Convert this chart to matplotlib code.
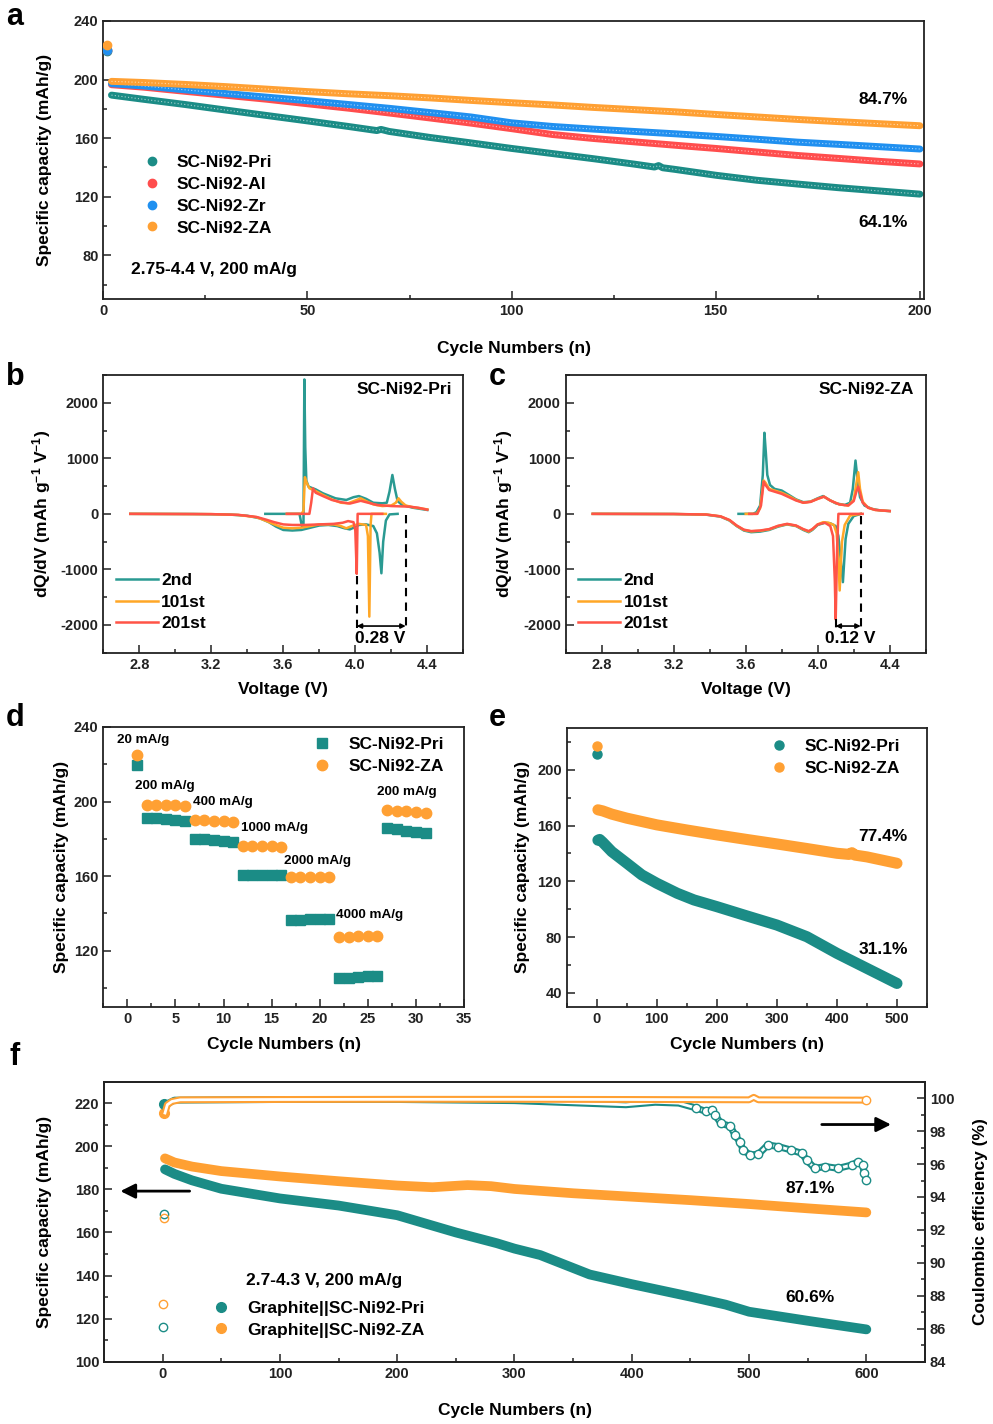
import matplotlib
matplotlib.use('Agg')
import matplotlib.pyplot as plt
from matplotlib.ticker import MultipleLocator

plt.rcParams['font.family'] = ['Liberation Sans', 'DejaVu Sans']
plt.rcParams['font.weight'] = 'bold'
plt.rcParams['axes.labelweight'] = 'bold'
plt.rcParams['axes.unicode_minus'] = False
plt.rcParams['mathtext.fontset'] = 'custom'
plt.rcParams['mathtext.rm'] = 'Liberation Sans:bold'
plt.rcParams['mathtext.default'] = 'rm'

TEAL = '#1b8c86'
RED = '#ff4d4d'
BLUE = '#2090f0'
ORANGE = '#ffa033'
C_2ND = '#2a9a92'
C_101 = '#ffa726'
C_201 = '#ff5447'

# ---- a: cycling 200 cycles, half cell
a_cyc = [2, 10, 20, 30, 40, 50, 60, 70, 80, 90, 100, 110, 120, 130, 140, 150, 160, 170, 180, 190, 200]
a_pri_cyc = [2, 10, 20, 30, 40, 50, 60, 67, 68, 70, 80, 90, 100, 110, 120, 130, 135, 136, 137, 140,
             150, 160, 170, 180, 190, 200]
a_pri = [189.4, 186.5, 183, 179.2, 175.5, 171.8, 168, 165.2, 166.0, 164.6, 160.5, 156.8, 153, 149.5, 146,
         142.3, 140.3, 141.3, 139.8, 138.7, 134.7, 131.3, 128.7, 126.2, 124, 121.8]
a_al = [196.5, 194.8, 192, 189.3, 186.6, 183.5, 180.5, 177.2, 173.8, 170.3, 166.5, 162.5, 159.8, 157.5,
        155.2, 153, 150.6, 148.2, 146.2, 144.2, 142.4]
a_zr = [197.2, 195.6, 193, 190.5, 188, 185.6, 183, 180.4, 177.5, 174.5, 170.5, 168, 166.2, 164.6, 163,
        161.2, 159.3, 157.3, 155.8, 154.2, 152.6]
a_za = [198.8, 198, 196.7, 195.2, 193.5, 191.8, 190.3, 189, 187.5, 185.8, 184.2, 182.7, 181, 179.5, 178,
        176.2, 174.5, 172.8, 171.3, 169.9, 168.5]
a_first = [219.5, 220.5, 220.0, 223.9]  # cycle 1: Pri, Al, Zr, ZA
a_names = ['SC-Ni92-Pri', 'SC-Ni92-Al', 'SC-Ni92-Zr', 'SC-Ni92-ZA']

# ---- b: dQ/dV SC-Ni92-Pri
b_2nd_chg_v = [3.50, 3.69, 3.703, 3.712, 3.717, 3.722, 3.728, 3.74, 3.78, 3.82, 3.89, 3.95, 3.99, 4.02,
               4.06, 4.10, 4.15, 4.175, 4.19, 4.206, 4.22, 4.235, 4.26, 4.32, 4.40]
b_2nd_chg_q = [0, 0, -220, -220, 2420, 1200, 600, 490, 440, 370, 280, 250, 300, 320, 270, 200, 190,
               200, 400, 700, 450, 230, 160, 110, 70]
b_2nd_dis_v = [4.235, 4.19, 4.17, 4.155, 4.145, 4.135, 4.12, 4.10, 4.06, 4.02, 3.99, 3.97, 3.94, 3.90,
               3.85, 3.80, 3.75, 3.70, 3.65, 3.60, 3.56, 3.52, 3.47, 3.40, 3.30, 3.10, 2.75]
b_2nd_dis_q = [0, -10, -120, -500, -1070, -700, -350, -220, -190, -200, -250, -280, -260, -220, -200,
               -210, -250, -290, -300, -290, -230, -150, -80, -35, -12, -3, 0]
b_101_chg_v = [3.62, 3.70, 3.712, 3.72, 3.73, 3.745, 3.78, 3.82, 3.87, 3.92, 3.96, 4.0, 4.03, 4.06, 4.10,
               4.15, 4.20, 4.225, 4.24, 4.255, 4.28, 4.32, 4.36, 4.40]
b_101_chg_q = [0, 0, 50, 660, 560, 460, 410, 340, 260, 200, 190, 240, 280, 230, 170, 140, 150, 200, 280,
               220, 150, 120, 100, 80]
b_101_dis_v = [4.17, 4.09, 4.085, 4.078, 4.07, 4.06, 4.02, 3.98, 3.95, 3.92, 3.88, 3.80, 3.75, 3.70, 3.65,
               3.60, 3.55, 3.50, 3.45, 3.35, 3.20, 2.75]
b_101_dis_q = [0, 0, -200, -1850, -400, -200, -180, -220, -260, -220, -190, -190, -220, -250, -260, -250,
               -190, -120, -60, -20, -5, 0]
b_201_chg_v = [3.62, 3.745, 3.755, 3.765, 3.78, 3.82, 3.87, 3.92, 3.97, 4.03, 4.06, 4.12, 4.20, 4.30,
               4.35, 4.40]
b_201_chg_q = [0, 0, 200, 460, 380, 320, 250, 210, 185, 235, 210, 160, 140, 130, 110, 75]
b_201_dis_v = [4.15, 4.013, 4.008, 4.0, 3.99, 3.96, 3.93, 3.88, 3.80, 3.72, 3.65, 3.60, 3.55, 3.50, 3.45,
               3.35, 3.20, 2.75]
b_201_dis_q = [0, 0, -1080, -300, -150, -130, -160, -180, -190, -200, -200, -190, -150, -100, -55, -18,
               -5, 0]

# ---- c: dQ/dV SC-Ni92-ZA
c_2nd_chg_v = [3.56, 3.64, 3.66, 3.68, 3.695, 3.704, 3.712, 3.72, 3.735, 3.76, 3.80, 3.84, 3.88, 3.92,
               3.96, 4.0, 4.03, 4.06, 4.10, 4.15, 4.18, 4.195, 4.21, 4.222, 4.235, 4.26, 4.30, 4.35, 4.40]
c_2nd_chg_q = [0, 0, 30, 150, 700, 1460, 1100, 700, 520, 450, 420, 340, 260, 210, 220, 280, 320, 260,
               190, 160, 200, 450, 960, 600, 300, 150, 90, 60, 50]
c_2nd_dis_v = [4.24, 4.20, 4.17, 4.155, 4.14, 4.13, 4.115, 4.10, 4.07, 4.04, 4.0, 3.97, 3.95, 3.92, 3.88,
               3.83, 3.78, 3.73, 3.68, 3.63, 3.59, 3.55, 3.51, 3.46, 3.38, 3.20, 2.75]
c_2nd_dis_q = [0, -40, -180, -450, -1230, -900, -400, -220, -170, -160, -200, -290, -330, -290, -220,
               -190, -230, -290, -320, -330, -300, -220, -120, -50, -15, -3, 0]
c_101_chg_v = [3.60, 3.66, 3.68, 3.70, 3.71, 3.73, 3.77, 3.80, 3.84, 3.88, 3.92, 3.96, 4.0, 4.035, 4.07,
               4.12, 4.17, 4.20, 4.215, 4.225, 4.235, 4.25, 4.28, 4.32, 4.40]
c_101_chg_q = [0, 0, 100, 600, 560, 450, 410, 380, 320, 250, 200, 220, 270, 310, 240, 170, 150, 250, 550,
               750, 450, 220, 110, 70, 50]
c_101_dis_v = [4.24, 4.18, 4.15, 4.135, 4.122, 4.115, 4.105, 4.09, 4.06, 4.03, 4.0, 3.97, 3.95, 3.92,
               3.88, 3.83, 3.78, 3.73, 3.68, 3.63, 3.59, 3.55, 3.51, 3.46, 3.38, 3.20, 2.75]
c_101_dis_q = [0, -30, -200, -500, -1380, -800, -350, -200, -160, -150, -190, -280, -320, -280, -215,
               -185, -220, -280, -305, -315, -290, -215, -115, -45, -12, -3, 0]
c_201_chg_v = [3.62, 3.665, 3.685, 3.70, 3.71, 3.73, 3.77, 3.80, 3.84, 3.88, 3.92, 3.96, 4.0, 4.035,
               4.07, 4.12, 4.17, 4.20, 4.215, 4.225, 4.235, 4.25, 4.28, 4.32, 4.40]
c_201_chg_q = [0, 0, 150, 580, 520, 430, 390, 360, 300, 240, 200, 215, 270, 310, 240, 170, 150, 230, 400,
               490, 380, 200, 110, 70, 50]
c_201_dis_v = [4.25, 4.115, 4.108, 4.10, 4.095, 4.085, 4.07, 4.04, 4.0, 3.97, 3.95, 3.92, 3.88, 3.83,
               3.78, 3.73, 3.68, 3.63, 3.59, 3.55, 3.51, 3.46, 3.38, 3.20, 2.75]
c_201_dis_q = [0, 0, -600, -1900, -1200, -400, -220, -160, -190, -275, -310, -275, -210, -180, -215,
               -275, -300, -310, -285, -210, -110, -45, -12, -3, 0]

# ---- d: rate capability
d_cyc = list(range(1, 32))
d_pri = [219.4, 191.2, 191.0, 190.6, 190.3, 189.6, 179.9, 179.7, 179.2, 179.0, 178.5, 160.8, 160.8,
         160.8, 160.6, 160.4, 136.5, 136.6, 137.0, 137.2, 137.2, 105.3, 105.3, 105.7, 106.2, 106.2,
         185.8, 185.1, 184.4, 183.8, 183.3]
d_za = [224.8, 198.3, 198.3, 198.2, 198.0, 197.6, 190.1, 189.9, 189.7, 189.4, 189.0, 176.2, 176.2,
        176.2, 176.0, 175.8, 159.5, 159.5, 159.5, 159.5, 159.5, 127.3, 127.3, 127.7, 128.1, 128.1,
        195.3, 195.1, 194.8, 194.4, 194.0]
d_rates = ['20 mA/g', '200 mA/g', '400 mA/g', '1000 mA/g', '2000 mA/g', '4000 mA/g', '200 mA/g']
d_rate_pos = [(-1.1, 232.8), (0.8, 208.2), (6.8, 199.6), (11.8, 185.6), (16.3, 167.9), (21.7, 139.0),
              (26.0, 205.0)]

# ---- e: long cycling 500 cycles
e_first = [211.3, 217.2]  # cycle 1: Pri, ZA
e_pri_cyc = [2, 5, 10, 25, 50, 75, 100, 134, 162, 200, 245, 300, 350, 400, 450, 500]
e_pri = [149.5, 150, 148, 141.3, 133, 124.6, 118.6, 111.4, 106.6, 101.8, 95.8, 88.6, 80.2, 68.3, 57.5,
         46.7]
e_za_cyc = [2, 10, 25, 50, 100, 150, 200, 250, 300, 350, 400, 420, 425, 430, 450, 500]
e_za = [171.3, 170.5, 168.2, 165.3, 160.5, 156.8, 153.3, 150, 146.8, 143.5, 140.1, 139.3, 140.5, 138.8,
        137.5, 132.9]

# ---- f: full cell
f_first_cap = [219.6, 215.6]  # cycle 1: Pri, ZA
f_first_ce = [92.95, 92.7]
f_pri_cyc = [2, 10, 25, 50, 100, 150, 200, 250, 285, 300, 322, 350, 364, 400, 450, 480, 500, 550, 600]
f_pri = [189.3, 187.2, 184.2, 180.3, 175.8, 172.5, 168, 160, 155, 152.5, 149.5, 143.5, 140.5, 136, 130.2,
         126.5, 123.2, 119, 115]
f_za_cyc = [2, 10, 25, 50, 100, 150, 200, 230, 260, 280, 300, 350, 400, 450, 500, 550, 600]
f_za = [194.4, 192.5, 190.6, 188.5, 186, 183.8, 181.8, 181, 182, 181.5, 180.2, 178.2, 176.6, 175, 173.2,
        171.2, 169.3]
f_ce_za_cyc = [2, 4, 8, 15, 100, 200, 300, 400, 500, 504, 508, 600]
f_ce_za = [99.1, 99.6, 99.8, 99.9, 99.92, 99.93, 99.93, 99.92, 99.9, 100.05, 99.9, 99.88]
f_ce_pri_cyc = [2, 5, 10, 100, 200, 300, 395, 420, 440, 455, 463, 468, 471, 476, 484, 488, 492, 495, 501,
                508, 516, 525, 536, 545, 549, 556, 565, 576, 588, 593, 597, 598, 600]
f_ce_pri = [99.4, 99.7, 99.88, 99.92, 99.92, 99.85, 99.6, 99.75, 99.7, 99.4, 99.2, 99.3, 98.98, 98.47,
            98.3, 97.76, 97.36, 96.85, 96.55, 96.6, 97.16, 97.06, 96.85, 96.65, 96.25, 95.74, 95.85,
            95.74, 95.95, 96.15, 95.95, 95.44, 95.03]

W, H = 993, 1424
fig = plt.figure(figsize=(W / 100, H / 100), dpi=100)


def add_ax(x0, y0, x1, y1):
    return fig.add_axes([x0 / W, 1 - y1 / H, (x1 - x0) / W, (y1 - y0) / H])


def style(ax, xmaj, xmin, ymaj, ymin):
    ax.xaxis.set_major_locator(MultipleLocator(xmaj))
    ax.xaxis.set_minor_locator(MultipleLocator(xmin))
    ax.yaxis.set_major_locator(MultipleLocator(ymaj))
    ax.yaxis.set_minor_locator(MultipleLocator(ymin))
    ax.tick_params(which='both', direction='in', labelsize=10.5, width=1.1, colors='#222222')
    ax.tick_params(which='major', length=6)
    ax.tick_params(which='minor', length=3)
    for sp in ax.spines.values():
        sp.set_linewidth(1.3)
        sp.set_color('#222222')


def letter(x, y, s):
    fig.text(x / W, 1 - y / H, s, fontsize=22, fontweight='bold', ha='center', va='center')


LAB = 12.5
LEG = dict(frameon=False, fontsize=12.5, labelspacing=0.38, borderpad=0, borderaxespad=0)

# ---------------- a
ax = add_ax(103.3, 21, 924, 299.3)
a_series = [(a_pri_cyc, a_pri, TEAL), (a_cyc, a_al, RED), (a_cyc, a_zr, BLUE), (a_cyc, a_za, ORANGE)]
for (cx, cy, col), first, name in zip(a_series, a_first, a_names):
    ax.plot(cx, cy, color=col, lw=5, solid_capstyle='round', zorder=2)
    ax.plot(cx, cy, color='white', lw=0.8, ls=(0, (1, 2)), alpha=0.6, zorder=2)
    ax.plot([1], [first], 'o', color=col, ms=6, zorder=3, label=name)
ax.set_xlim(0, 201)
ax.set_ylim(50, 240)
style(ax, 50, 25, 40, 20)
ax.set_ylabel('Specific capacity (mAh/g)', fontsize=LAB)
ax.set_xlabel('Cycle Numbers (n)', fontsize=LAB)
ax.yaxis.set_label_coords(-0.062, 0.5)
ax.xaxis.set_label_coords(0.5, -0.15)
ax.legend(loc='upper left', bbox_to_anchor=(0.049, 0.518), handlelength=1.0, handletextpad=0.9, **LEG)
ax.text(6.9, 70.1, '2.75-4.4 V, 200 mA/g', fontsize=12.5, ha='left', va='center')
ax.text(190.9, 186.3, '84.7%', fontsize=12.5, ha='center', va='center')
ax.text(190.9, 102.2, '64.1%', fontsize=12.5, ha='center', va='center')
letter(15, 17, 'a')


# ---------------- b, c
def dqdv_panel(box, curves, title, x_left, x_right, y_left, y_right, y_arrow, label, label_x):
    ax = add_ax(*box)
    for chg_v, chg_q, dis_v, dis_q, col, name in curves:
        ax.plot(chg_v, chg_q, color=col, lw=1.8, label=name)
        ax.plot(dis_v, dis_q, color=col, lw=1.8)
    ax.plot([x_left, x_left], [y_left, -2060], color='k', ls='--', lw=1.5, dashes=(4, 3))
    ax.plot([x_right, x_right], [y_right, -2060], color='k', ls='--', lw=1.5, dashes=(4, 3))
    ax.annotate('', xy=(x_right, y_arrow), xytext=(x_left, y_arrow),
                arrowprops=dict(arrowstyle='<|-|>', color='k', lw=1.2, mutation_scale=7,
                                shrinkA=0, shrinkB=0))
    ax.text(label_x, -2250, label, fontsize=12.5, ha='center', va='center')
    ax.set_xlim(2.6, 4.6)
    ax.set_ylim(-2500, 2500)
    style(ax, 0.4, 0.2, 1000, 500)
    ax.set_xlabel('Voltage (V)', fontsize=LAB)
    ax.set_ylabel('dQ/dV (mAh g$^{-1}$ V$^{-1}$)', fontsize=LAB)
    ax.yaxis.set_label_coords(-0.14, 0.5)
    ax.xaxis.set_label_coords(0.5, -0.105)
    ax.text(0.968, 0.946, title, transform=ax.transAxes, fontsize=12.5, ha='right', va='center')
    ax.legend(loc='upper left', bbox_to_anchor=(0.035, 0.288), handlelength=2.4, handletextpad=0.2, **LEG)
    return ax


dqdv_panel((103.3, 375, 463.3, 652.7),
           [(b_2nd_chg_v, b_2nd_chg_q, b_2nd_dis_v, b_2nd_dis_q, C_2ND, '2nd'),
            (b_101_chg_v, b_101_chg_q, b_101_dis_v, b_101_dis_q, C_101, '101st'),
            (b_201_chg_v, b_201_chg_q, b_201_dis_v, b_201_dis_q, C_201, '201st')],
           'SC-Ni92-Pri', 4.008, 4.28, -1120, -20, -2020, '0.28 V', 4.141)
letter(15, 377, 'b')

dqdv_panel((565.7, 375, 925.7, 652.7),
           [(c_2nd_chg_v, c_2nd_chg_q, c_2nd_dis_v, c_2nd_dis_q, C_2ND, '2nd'),
            (c_101_chg_v, c_101_chg_q, c_101_dis_v, c_101_dis_q, C_101, '101st'),
            (c_201_chg_v, c_201_chg_q, c_201_dis_v, c_201_dis_q, C_201, '201st')],
           'SC-Ni92-ZA', 4.099, 4.239, -1900, -30, -2020, '0.12 V', 4.183)
letter(497, 377, 'c')

# ---------------- d
ax = add_ax(103.3, 727, 464, 1006.7)
ax.plot(d_cyc, d_pri, 's', color=TEAL, ms=7, label='SC-Ni92-Pri')
ax.plot(d_cyc, d_za, 'o', color=ORANGE, ms=7.5, label='SC-Ni92-ZA')
for txt, (tx, ty) in zip(d_rates, d_rate_pos):
    ax.text(tx, ty, txt, fontsize=9.7, ha='left', va='center')
ax.set_xlim(-2.5, 35)
ax.set_ylim(90, 240)
style(ax, 5, 2.5, 40, 20)
ax.set_xlabel('Cycle Numbers (n)', fontsize=LAB)
ax.set_ylabel('Specific capacity (mAh/g)', fontsize=LAB)
ax.yaxis.set_label_coords(-0.095, 0.5)
ax.xaxis.set_label_coords(0.5, -0.11)
ax.legend(loc='upper left', bbox_to_anchor=(0.578, 0.965), handlelength=1.2, handletextpad=0.9, **LEG)
letter(15, 718, 'd')

# ---------------- e
ax = add_ax(566.7, 728, 927, 1006.7)
ax.plot(e_pri_cyc, e_pri, color=TEAL, lw=8, solid_capstyle='round')
ax.plot(e_za_cyc, e_za, color=ORANGE, lw=8, solid_capstyle='round')
ax.plot([1], [e_first[0]], 'o', color=TEAL, ms=6.5, label='SC-Ni92-Pri')
ax.plot([1], [e_first[1]], 'o', color=ORANGE, ms=6.5, label='SC-Ni92-ZA')
ax.text(477, 152.1, '77.4%', fontsize=12.5, ha='center', va='center')
ax.text(477, 70.7, '31.1%', fontsize=12.5, ha='center', va='center')
ax.set_xlim(-50, 550)
ax.set_ylim(30, 230)
style(ax, 100, 50, 40, 20)
ax.set_xlabel('Cycle Numbers (n)', fontsize=LAB)
ax.set_ylabel('Specific capacity (mAh/g)', fontsize=LAB)
ax.yaxis.set_label_coords(-0.102, 0.5)
ax.xaxis.set_label_coords(0.5, -0.11)
ax.legend(loc='upper left', bbox_to_anchor=(0.56, 0.96), handlelength=1.2, handletextpad=0.9, **LEG)
letter(497, 718, 'e')

# ---------------- f
ax = add_ax(104, 1081.7, 925, 1361.7)
ax2 = ax.twinx()
ax.plot(f_pri_cyc, f_pri, color=TEAL, lw=7, solid_capstyle='round')
ax.plot(f_za_cyc, f_za, color=ORANGE, lw=7, solid_capstyle='round')
ax.plot([1], [f_first_cap[0]], 'o', color=TEAL, ms=7, label='Graphite||SC-Ni92-Pri')
ax.plot([1], [f_first_cap[1]], 'o', color=ORANGE, ms=7, label='Graphite||SC-Ni92-ZA')

ax2.plot(f_ce_pri_cyc, f_ce_pri, color=TEAL, lw=5, solid_capstyle='round')
ax2.plot(f_ce_pri_cyc, f_ce_pri, color='white', lw=2)
late = [i for i, c in enumerate(f_ce_pri_cyc) if c > 450]
ax2.plot([f_ce_pri_cyc[i] for i in late], [f_ce_pri[i] for i in late], 'o', mfc='white', mec=TEAL,
         mew=1, ms=6, ls='none')
ax2.plot(f_ce_za_cyc, f_ce_za, color=ORANGE, lw=5, solid_capstyle='round')
ax2.plot(f_ce_za_cyc, f_ce_za, color='white', lw=2)
ax2.plot([600], [f_ce_za[-1]], 'o', mfc='white', mec=ORANGE, ms=6)
ax2.plot([1], [f_first_ce[0]], 'o', mfc='none', mec=TEAL, ms=6)
ax2.plot([1], [f_first_ce[1]], 'o', mfc='none', mec=ORANGE, ms=6)

ax.annotate('', xy=(-36, 179.2), xytext=(23, 179.2),
            arrowprops=dict(arrowstyle='-|>', color='k', lw=2, mutation_scale=22, shrinkA=0, shrinkB=0))
ax2.annotate('', xy=(621, 98.4), xytext=(562, 98.4),
             arrowprops=dict(arrowstyle='-|>', color='k', lw=2, mutation_scale=22, shrinkA=0, shrinkB=0))
ax.text(552, 180.5, '87.1%', fontsize=12.5, ha='center', va='center')
ax.text(552, 129.9, '60.6%', fontsize=12.5, ha='center', va='center')
ax.text(71, 137.9, '2.7-4.3 V, 200 mA/g', fontsize=12.5, ha='left', va='center')

ax.set_xlim(-50, 650)
ax.set_ylim(100, 230)
ax2.set_ylim(84, 101)
style(ax, 100, 50, 20, 10)
style(ax2, 100, 50, 2, 1)
ax.set_xlabel('Cycle Numbers (n)', fontsize=LAB)
ax.set_ylabel('Specific capacity (mAh/g)', fontsize=LAB)
ax2.set_ylabel('Coulombic efficiency (%)', fontsize=LAB)
ax.yaxis.set_label_coords(-0.063, 0.5)
ax2.yaxis.set_label_coords(1.058, 0.5)
ax.xaxis.set_label_coords(0.5, -0.147)
ax.legend(loc='upper left', bbox_to_anchor=(0.13, 0.218), handlelength=1.2, handletextpad=0.9, **LEG)
# hollow (coulombic efficiency) glyphs next to the legend rows
ax.plot([0.0723], [0.205], 'o', mfc='none', mec=ORANGE, ms=6, transform=ax.transAxes)
ax.plot([0.0723], [0.125], 'o', mfc='none', mec=TEAL, ms=6, transform=ax.transAxes)
letter(15, 1057, 'f')

fig.savefig('out.png', dpi=100)
